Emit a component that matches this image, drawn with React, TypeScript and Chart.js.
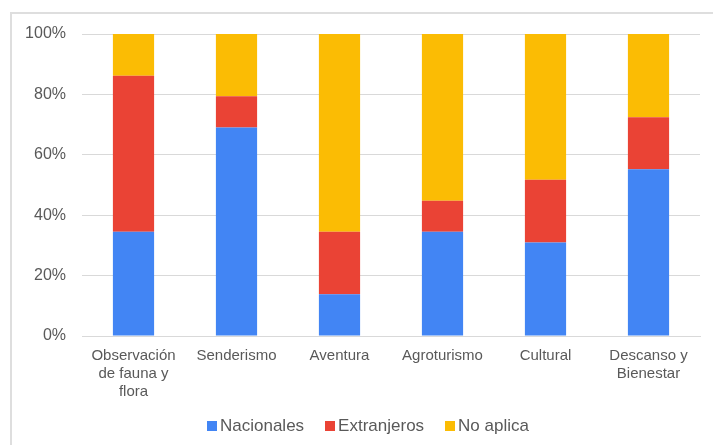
import React, { useEffect, useRef } from "react";
import { Chart, registerables } from "chart.js";

Chart.register(...registerables);

const categories: (string | string[])[] = [
  ["Observación", "de fauna y", "flora"],
  "Senderismo",
  "Aventura",
  "Agroturismo",
  "Cultural",
  ["Descanso y", "Bienestar"],
];

const nacionales = [34.5, 69.0, 13.8, 34.5, 31.0, 55.2];
const extranjeros = [51.7, 10.4, 20.7, 10.3, 20.7, 17.2];
const noAplica = [13.8, 20.6, 65.5, 55.2, 48.3, 27.6];

const seriesNames = ["Nacionales", "Extranjeros", "No aplica"];
const seriesColors = ["#4285F4", "#EA4335", "#FBBC04"];

const yTicks = [0, 20, 40, 60, 80, 100];

const FONT = "'Liberation Sans', Arial, sans-serif";
const TEXT = "#595959";

export default function App() {
  const canvasRef = useRef<HTMLCanvasElement | null>(null);

  useEffect(() => {
    if (!canvasRef.current) return;
    const chart = new Chart(canvasRef.current, {
      type: "bar",
      data: {
        labels: categories,
        datasets: [nacionales, extranjeros, noAplica].map((d, i) => ({
          label: seriesNames[i],
          data: d,
          backgroundColor: seriesColors[i],
          borderWidth: 0,
          barPercentage: 0.4,
          categoryPercentage: 1,
        })),
      },
      options: {
        animation: false,
        responsive: false,
        layout: { padding: { top: 34, right: 13, left: 0, bottom: 0 } },
        plugins: {
          legend: { display: false },
          tooltip: { enabled: false },
        },
        scales: {
          x: {
            stacked: true,
            grid: { display: false, drawTicks: false },
            border: { display: true, color: "#d9d9d9", width: 1 },
            ticks: {
              color: TEXT,
              font: { family: FONT, size: 15, lineHeight: 1.2 },
              padding: 11,
              maxRotation: 0,
              autoSkip: false,
            },
            afterFit: (scale: any) => {
              scale.height = 109;
            },
          },
          y: {
            stacked: true,
            min: 0,
            max: 100,
            afterBuildTicks: (scale: any) => {
              scale.ticks = yTicks.map((v) => ({ value: v }));
            },
            grid: { color: "#d9d9d9", lineWidth: 1, drawTicks: false },
            border: { display: false },
            ticks: {
              color: TEXT,
              font: { family: FONT, size: 16 },
              padding: 16,
              callback: (v: any) => v + "%",
            },
            afterFit: (scale: any) => {
              scale.width = 82;
            },
          },
        },
      },
    });
    return () => chart.destroy();
  }, []);

  return (
    <div
      style={{
        position: "fixed",
        left: 0,
        top: 0,
        width: 713,
        height: 445,
        background: "#fff",
        overflow: "hidden",
      }}
    >
      <div
        style={{
          position: "absolute",
          left: 10,
          top: 12,
          width: 720,
          height: 460,
          border: "2px solid #dedede",
          boxSizing: "border-box",
        }}
      />
      <canvas
        ref={canvasRef}
        width={713}
        height={445}
        style={{ position: "absolute", left: 0, top: 0 }}
      />
      <div
        style={{
          position: "absolute",
          left: 207,
          top: 416,
          display: "flex",
          alignItems: "center",
          fontFamily: FONT,
          fontSize: 17,
          color: TEXT,
          whiteSpace: "nowrap",
        }}
      >
        {seriesNames.map((n, i) => (
          <div
            key={n}
            style={{ display: "flex", alignItems: "center", marginRight: i < 2 ? 21 : 0 }}
          >
            <span
              style={{
                display: "inline-block",
                width: 10,
                height: 10,
                background: seriesColors[i],
                marginRight: 3,
              }}
            />
            <span>{n}</span>
          </div>
        ))}
      </div>
    </div>
  );
}
